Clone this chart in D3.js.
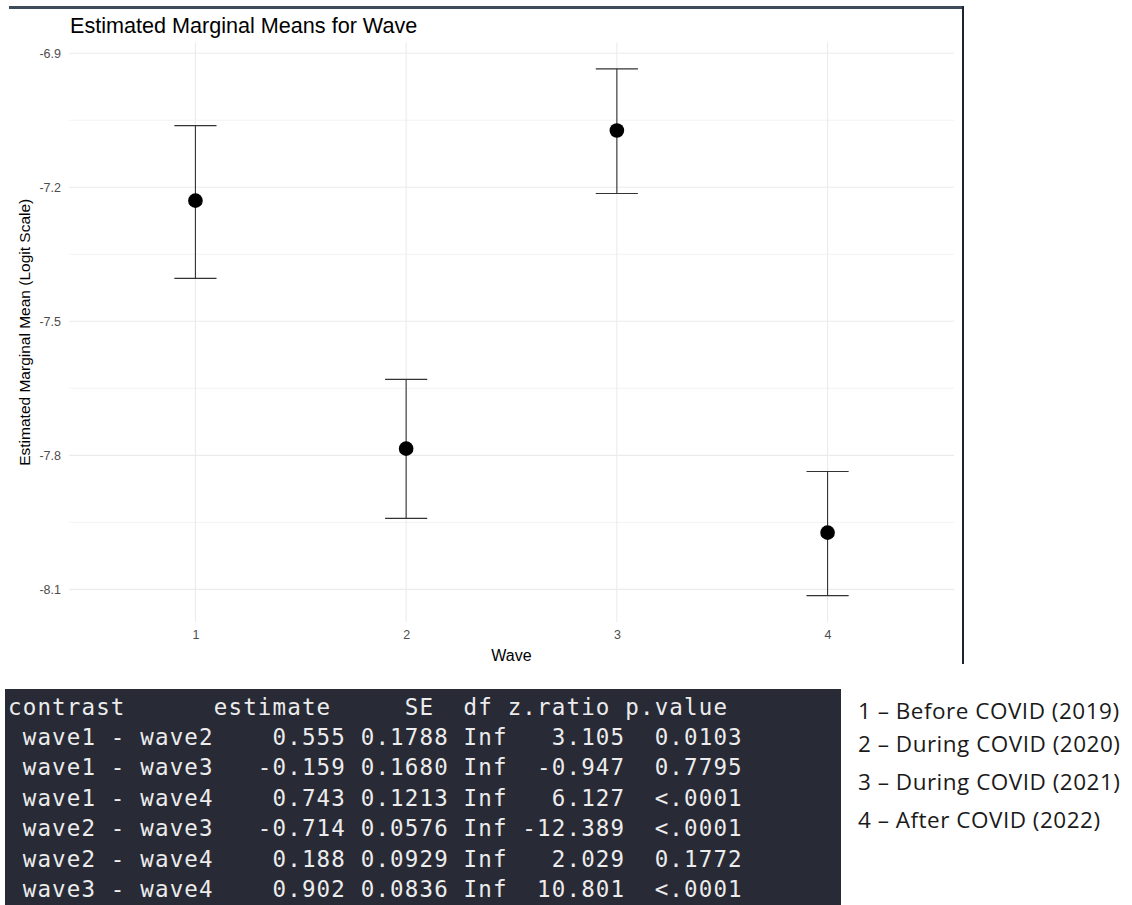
<!DOCTYPE html>
<html>
<head>
<meta charset="utf-8">
<script src="https://cdn.jsdelivr.net/npm/d3@7"></script>
<style>
  html, body { margin: 0; padding: 0; background: #ffffff; }
  svg { display: block; }
</style>
</head>
<body>
<svg id="chart" width="1132" height="905"></svg>
<script>
'use strict';

// estimated marginal means (logit scale) per wave
var waves = ['1', '2', '3', '4'];
var emmeans = [-7.230, -7.785, -7.073, -7.973];
var lowerCL = [-7.404, -7.941, -7.214, -8.114];
var upperCL = [-7.062, -7.630, -6.935, -7.836];
var yTicks = [-8.1, -7.8, -7.5, -7.2, -6.9];
var yMinorTicks = [-7.95, -7.65, -7.35, -7.05];

// pairwise contrasts table
var tableHeader = ['contrast', 'estimate', 'SE', 'df', 'z.ratio', 'p.value'];
var contrasts = ['wave1 - wave2', 'wave1 - wave3', 'wave1 - wave4',
                 'wave2 - wave3', 'wave2 - wave4', 'wave3 - wave4'];
var estimates = [0.555, -0.159, 0.743, -0.714, 0.188, 0.902];
var stdErrors = [0.1788, 0.1680, 0.1213, 0.0576, 0.0929, 0.0836];
var dfs = ['Inf', 'Inf', 'Inf', 'Inf', 'Inf', 'Inf'];
var zRatios = [3.105, -0.947, 6.127, -12.389, 2.029, 10.801];
var pValues = ['0.0103', '0.7795', '<.0001', '<.0001', '0.1772', '<.0001'];

// wave legend
var waveLabels = ['1 \u2013 Before COVID (2019)', '2 \u2013 During COVID (2020)',
                  '3 \u2013 During COVID (2021)', '4 \u2013 After COVID (2022)'];

var svg = d3.select('#chart');
var sans = '"Liberation Sans", Arial, sans-serif';

var panel = { left: 69, right: 954, top: 42.5, bottom: 622 };

// frame bits from the screenshot
svg.append('rect')
  .attr('x', 9).attr('y', 6)
  .attr('width', 955).attr('height', 3)
  .attr('fill', '#3d4b5a');
svg.append('rect')
  .attr('x', 962).attr('y', 6)
  .attr('width', 2).attr('height', 658)
  .attr('fill', '#1b2433');

var x = d3.scalePoint()
  .domain(waves)
  .range([panel.left, panel.right])
  .padding(0.6);

var lo = d3.min(lowerCL), hi = d3.max(upperCL);
var pad = (hi - lo) * 0.05;
var y = d3.scaleLinear()
  .domain([lo - pad, hi + pad])
  .range([panel.bottom, panel.top]);

// grid
var grid = svg.append('g').attr('class', 'grid');
grid.selectAll('line.minor')
  .data(yMinorTicks)
  .enter().append('line')
  .attr('class', 'minor')
  .attr('x1', panel.left).attr('x2', panel.right)
  .attr('y1', function(d){ return y(d); })
  .attr('y2', function(d){ return y(d); })
  .attr('stroke', '#f3f3f3')
  .attr('stroke-width', 1);
grid.selectAll('line.hmajor')
  .data(yTicks)
  .enter().append('line')
  .attr('class', 'hmajor')
  .attr('x1', panel.left).attr('x2', panel.right)
  .attr('y1', function(d){ return y(d); })
  .attr('y2', function(d){ return y(d); })
  .attr('stroke', '#ebebeb')
  .attr('stroke-width', 1.1);
grid.selectAll('line.vmajor')
  .data(waves)
  .enter().append('line')
  .attr('class', 'vmajor')
  .attr('x1', function(d){ return x(d); })
  .attr('x2', function(d){ return x(d); })
  .attr('y1', panel.top).attr('y2', panel.bottom)
  .attr('stroke', '#ebebeb')
  .attr('stroke-width', 1.1);

// axes
var yAxis = svg.append('g')
  .attr('transform', 'translate(' + panel.left + ',0)')
  .call(d3.axisLeft(y)
    .tickValues(yTicks)
    .tickSize(0)
    .tickPadding(8)
    .tickFormat(function(d){ return d.toFixed(1); }));
var xAxis = svg.append('g')
  .attr('transform', 'translate(0,' + panel.bottom + ')')
  .call(d3.axisBottom(x).tickSize(0).tickPadding(8));

[yAxis, xAxis].forEach(function(ax){
  ax.select('.domain').remove();
  ax.selectAll('text')
    .attr('fill', '#4d4d4d')
    .style('font-family', sans)
    .style('font-size', '12.5px');
});

// error bars
var capHalf = x.step() * 0.1;
var bars = svg.append('g').attr('class', 'errorbars');
waves.forEach(function(w, i){
  var g = bars.append('g');
  g.append('line')
    .attr('x1', x(w)).attr('x2', x(w))
    .attr('y1', y(upperCL[i])).attr('y2', y(lowerCL[i]));
  g.append('line')
    .attr('x1', x(w) - capHalf).attr('x2', x(w) + capHalf)
    .attr('y1', y(upperCL[i])).attr('y2', y(upperCL[i]));
  g.append('line')
    .attr('x1', x(w) - capHalf).attr('x2', x(w) + capHalf)
    .attr('y1', y(lowerCL[i])).attr('y2', y(lowerCL[i]));
  g.selectAll('line')
    .attr('stroke', '#333333')
    .attr('stroke-width', 1.1);
});

svg.append('g').attr('class', 'points')
  .selectAll('circle')
  .data(waves)
  .enter().append('circle')
  .attr('cx', function(d){ return x(d); })
  .attr('cy', function(d, i){ return y(emmeans[i]); })
  .attr('r', 7.3)
  .attr('fill', '#000000');

// titles
svg.append('text')
  .text('Estimated Marginal Means for Wave')
  .attr('x', 70).attr('y', 33)
  .attr('fill', '#000000')
  .style('font-family', sans)
  .style('font-size', '21.6px');

svg.append('text')
  .text('Wave')
  .attr('x', (panel.left + panel.right) / 2)
  .attr('y', 661)
  .attr('text-anchor', 'middle')
  .attr('fill', '#000000')
  .style('font-family', sans)
  .style('font-size', '16px');

svg.append('text')
  .text('Estimated Marginal Mean (Logit Scale)')
  .attr('transform', 'translate(30,' + ((panel.top + panel.bottom) / 2) + ') rotate(-90)')
  .attr('text-anchor', 'middle')
  .attr('fill', '#000000')
  .style('font-family', sans)
  .style('font-size', '15.5px');

// console-style table of contrasts
svg.append('rect')
  .attr('x', 5).attr('y', 689)
  .attr('width', 836).attr('height', 216)
  .attr('fill', '#282a36');

var headerLine = tableHeader[0].padEnd(13) + ' ' +
  tableHeader[1].padStart(8) + ' ' +
  tableHeader[2].padStart(6) + ' ' +
  tableHeader[3].padStart(3) + ' ' +
  tableHeader[4].padStart(7) + ' ' +
  tableHeader[5].padStart(7);

var rowLines = contrasts.map(function(c, i){
  return ' ' + c.padEnd(13) + ' ' +
    estimates[i].toFixed(3).padStart(8) + ' ' +
    stdErrors[i].toFixed(4).padStart(6) + ' ' +
    dfs[i].padStart(3) + ' ' +
    zRatios[i].toFixed(3).padStart(7) + ' ' +
    pValues[i].padStart(7);
});

svg.append('g').attr('class', 'table')
  .selectAll('text')
  .data([headerLine].concat(rowLines))
  .enter().append('text')
  .text(function(d){ return d; })
  .attr('x', 8)
  .attr('y', function(d, i){ return 714.5 + i * 30.4; })
  .attr('xml:space', 'preserve')
  .attr('fill', '#ececec')
  .style('white-space', 'pre')
  .style('font-family', '"DejaVu Sans Mono", monospace')
  .style('font-size', '22.5px')
  .style('letter-spacing', '1.15px');

// wave legend on the right
var legendY = [719, 752, 790, 828];
svg.append('g').attr('class', 'legend')
  .selectAll('text')
  .data(waveLabels)
  .enter().append('text')
  .text(function(d){ return d; })
  .attr('x', 858)
  .attr('y', function(d, i){ return legendY[i]; })
  .attr('fill', '#1a1a1a')
  .style('font-family', '"Open Sans", sans-serif')
  .style('font-size', '22.5px')
  .style('letter-spacing', '0.5px');
</script>
</body>
</html>
